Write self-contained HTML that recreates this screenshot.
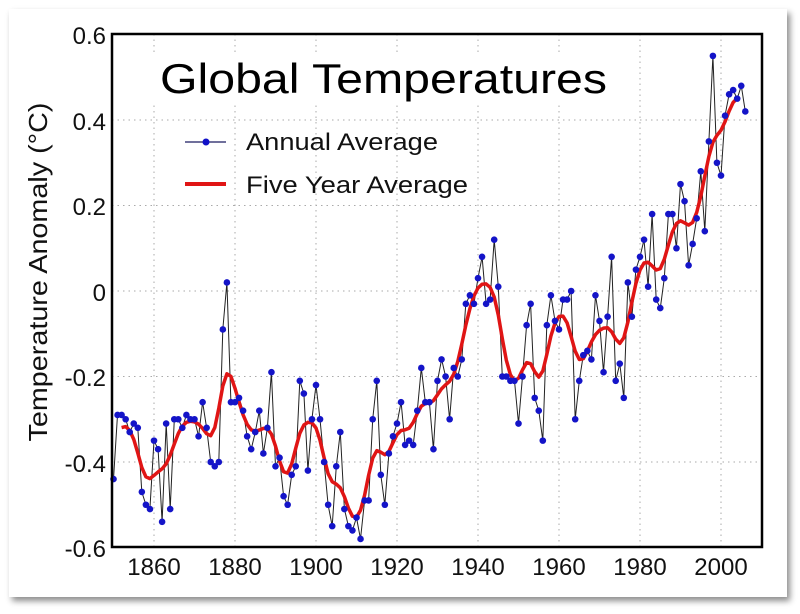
<!DOCTYPE html>
<html><head><meta charset="utf-8"><style>
html,body{margin:0;padding:0;background:#fff;}
body{width:800px;height:614px;position:relative;overflow:hidden;font-family:"Liberation Sans",Arial,sans-serif;}
.card{position:absolute;left:9px;top:9px;width:778px;height:588px;background:#fff;box-shadow:3px 4px 6px rgba(0,0,0,0.45);}
svg{position:absolute;left:0;top:0;}
</style></head><body>
<div class="card"></div>
<svg width="800" height="614" viewBox="0 0 800 614" font-family="Liberation Sans, Arial, sans-serif">
<g id="grid" stroke="#aaa" stroke-dasharray="1.5,4" stroke-width="1"></g>
<g id="series"></g>
<rect x="112" y="34" width="650" height="513" fill="none" stroke="#000" stroke-width="2.5"/>
<g font-size="24" fill="#111" text-anchor="end">
<text x="106" y="44">0.6</text>
<text x="106" y="130">0.4</text>
<text x="106" y="215">0.2</text>
<text x="106" y="301">0</text>
<text x="106" y="386">-0.2</text>
<text x="106" y="472">-0.4</text>
<text x="106" y="557">-0.6</text>
</g>
<g font-size="24" fill="#111" text-anchor="middle">
<text x="154" y="575">1860</text>
<text x="235" y="575">1880</text>
<text x="316" y="575">1900</text>
<text x="397" y="575">1920</text>
<text x="478" y="575">1940</text>
<text x="559" y="575">1960</text>
<text x="640" y="575">1980</text>
<text x="721" y="575">2000</text>
</g>
<text transform="translate(47,272) rotate(-90)" font-size="26" text-anchor="middle" fill="#111" textLength="339" lengthAdjust="spacingAndGlyphs">Temperature Anomaly (°C)</text>
<rect x="150" y="52" width="462" height="50" fill="#fff"/>
<text x="160" y="93" font-size="42" fill="#000" textLength="447" lengthAdjust="spacingAndGlyphs">Global Temperatures</text>
<line x1="185" y1="142" x2="226" y2="142" stroke="#1a1a60" stroke-width="1.3"/>
<circle cx="206" cy="142" r="3.5" fill="#1010c8"/>
<text x="246" y="150" font-size="24" fill="#111" textLength="192" lengthAdjust="spacingAndGlyphs">Annual Average</text>
<line x1="185" y1="184" x2="226" y2="184" stroke="#e01515" stroke-width="4"/>
<text x="246" y="193" font-size="24" fill="#111" textLength="222" lengthAdjust="spacingAndGlyphs">Five Year Average</text>
</svg>
<script>
var d=[-0.44,-0.29,-0.29,-0.30,-0.33,-0.31,-0.32,-0.47,-0.50,-0.51,-0.35,-0.37,-0.54,-0.31,-0.51,-0.30,-0.30,-0.32,-0.29,-0.30,-0.30,-0.34,-0.26,-0.32,-0.40,-0.41,-0.40,-0.09,0.02,-0.26,-0.26,-0.25,-0.28,-0.34,-0.37,-0.33,-0.28,-0.38,-0.32,-0.19,-0.41,-0.39,-0.48,-0.50,-0.43,-0.41,-0.21,-0.24,-0.42,-0.30,-0.22,-0.30,-0.40,-0.50,-0.55,-0.41,-0.33,-0.51,-0.55,-0.56,-0.53,-0.58,-0.49,-0.49,-0.30,-0.21,-0.43,-0.50,-0.38,-0.34,-0.31,-0.26,-0.36,-0.35,-0.36,-0.28,-0.18,-0.26,-0.26,-0.37,-0.21,-0.16,-0.20,-0.30,-0.18,-0.20,-0.16,-0.03,-0.01,-0.03,0.03,0.08,-0.03,-0.02,0.12,0.01,-0.20,-0.20,-0.21,-0.21,-0.31,-0.20,-0.08,-0.03,-0.25,-0.28,-0.35,-0.08,-0.01,-0.07,-0.09,-0.02,-0.02,0.00,-0.30,-0.21,-0.15,-0.14,-0.16,-0.01,-0.07,-0.19,-0.06,0.08,-0.21,-0.17,-0.25,0.02,-0.06,0.05,0.08,0.12,0.01,0.18,-0.02,-0.04,0.03,0.18,0.18,0.10,0.25,0.21,0.06,0.11,0.17,0.28,0.14,0.35,0.55,0.30,0.27,0.41,0.46,0.47,0.45,0.48,0.42];
function X(i){return 113.5+4.05*i;}function Y(v){return 291-v*427.5;}
var ns="http://www.w3.org/2000/svg",g=document.getElementById('grid'),s=document.getElementById('series');
function el(p,t,a){var e=document.createElementNS(ns,t);for(var k in a)e.setAttribute(k,a[k]);p.appendChild(e);return e;}
for(var yr=1860;yr<=2000;yr+=20){var x=X(yr-1850);el(g,'line',{x1:x,y1:34,x2:x,y2:547});}
for(var v=-0.4;v<0.5;v+=0.2){var y=Y(v);el(g,'line',{x1:112,y1:y,x2:762,y2:y});}
var p='';for(var i=0;i<d.length;i++)p+=(i?'L':'M')+X(i).toFixed(1)+' '+Y(d[i]).toFixed(1);
el(s,'path',{d:p,fill:'none',stroke:'#222',"stroke-width":1});
var sm=[],q='';for(var i=2;i<d.length-2;i++){var a=0,w=0;for(var k=-5;k<=5;k++){var j=i+k;if(j<0||j>=d.length)continue;var ww=Math.exp(-k*k/(2*1.8*1.8));a+=d[j]*ww;w+=ww;}sm.push([X(i),Y(a/w)]);}
for(var i=0;i<sm.length;i++)q+=(i?'L':'M')+sm[i][0].toFixed(1)+' '+sm[i][1].toFixed(1);
el(s,'path',{d:q,fill:'none',stroke:'#e01515',"stroke-width":3.5,"stroke-linejoin":"round"});
for(var i=0;i<d.length;i++)el(s,'circle',{cx:X(i),cy:Y(d[i]),r:3.3,fill:'#1414c8'});
</script>
</body></html>
